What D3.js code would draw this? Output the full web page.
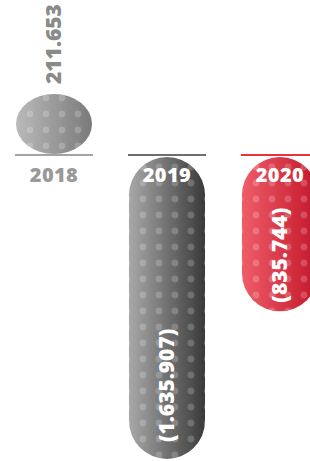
<!DOCTYPE html>
<meta charset="utf-8">
<style>
body { margin: 0; background: #fff; }
text { font-family: "Open Sans", sans-serif; font-weight: 800; }
</style>
<svg width="310" height="461"></svg>
<script src="https://d3js.org/d3.v7.min.js"></script>
<script>

var years = ["2018", "2019", "2020"];
var values = [211653, -1635907, -835744];
var labels = ["211.653", "(1.635.907)", "(835.744)"];

var svg = d3.select("svg"),
    baseY = 155,
    minH = 60;

var x = d3.scaleBand()
    .domain(years)
    .range([16, 318])
    .paddingInner(0.327);

var barW = x.bandwidth();

// negatives hang below the baseline
var y = d3.scaleLinear()
    .domain([0, d3.max(values, function(d) { return Math.abs(d); })])
    .range([0, 302]);

var grads = {
  "2018": ["#bababa", "#7a7a7a"],
  "2019": ["#a8a8a8", "#3a3a3a"],
  "2020": ["#ef5d69", "#c2162a"]
};
var lineColor = { "2018": "#a3a3a3", "2019": "#6e6e6e", "2020": "#e8333d" };

var defs = svg.append("defs");
years.forEach(function(yr) {
  var g = defs.append("linearGradient").attr("id", "g" + yr)
      .attr("x1", 0).attr("x2", 1).attr("y1", 0).attr("y2", 0);
  g.append("stop").attr("offset", "0%").attr("stop-color", grads[yr][0]);
  g.append("stop").attr("offset", "100%").attr("stop-color", grads[yr][1]);
});

var data = years.map(function(yr, i) {
  var h = Math.max(y(Math.abs(values[i])), minH);
  var cx = x(yr) + barW / 2;
  var top = values[i] > 0 ? baseY - 1 - h : baseY + 2;
  return { year: yr, value: values[i], label: labels[i], cx: cx, top: top, h: h };
});

var bar = svg.selectAll("g.bar")
  .data(data)
  .enter().append("g")
    .attr("class", "bar");

bar.append("clipPath")
    .attr("id", function(d) { return "c" + d.year; })
  .append("rect")
    .attr("x", function(d) { return d.cx - barW / 2; })
    .attr("y", function(d) { return d.top; })
    .attr("width", barW)
    .attr("height", function(d) { return d.h; })
    .attr("rx", barW / 2)
    .attr("ry", barW / 2);

bar.append("rect")
    .attr("x", function(d) { return d.cx - barW / 2; })
    .attr("y", function(d) { return d.top; })
    .attr("width", barW)
    .attr("height", function(d) { return d.h; })
    .attr("rx", barW / 2)
    .attr("ry", barW / 2)
    .attr("fill", function(d) { return "url(#g" + d.year + ")"; });

// dotted texture
bar.append("g")
    .attr("clip-path", function(d) { return "url(#c" + d.year + ")"; })
  .each(function(d) {
    var pts = [];
    var r0 = d.value > 0 ? 4 : 10;
    for (var ry = d.top + r0; ry < d.top + d.h + 8; ry += 16)
      for (var k = -3; k < 3; k++)
        pts.push([d.cx + 8 + 16 * k, ry]);
    d3.select(this).selectAll("circle")
      .data(pts)
      .enter().append("circle")
        .attr("cx", function(p) { return p[0]; })
        .attr("cy", function(p) { return p[1]; })
        .attr("r", 3.4)
        .attr("fill", "#fff")
        .attr("fill-opacity", 0.2);
  });

// baseline per year
bar.append("line")
    .attr("x1", function(d) { return d.cx - barW / 2 - 1; })
    .attr("x2", function(d) { return d.cx + barW / 2 + 1; })
    .attr("y1", baseY)
    .attr("y2", baseY)
    .attr("stroke", function(d) { return lineColor[d.year]; })
    .attr("stroke-width", 2.2);

// year labels
bar.append("text")
    .attr("x", function(d) { return d.cx; })
    .attr("y", 182)
    .attr("text-anchor", "middle")
    .attr("font-size", 20)
    .attr("letter-spacing", 0.4)
    .attr("fill", function(d) { return d.value > 0 ? "#999" : "#fff"; })
    .text(function(d) { return d.year; });

// value labels, rotated
bar.append("text")
    .attr("transform", function(d) {
      var ty = d.value > 0 ? d.top - 10 : d.top + d.h - d.h * 0.056;
      return "translate(" + d.cx + "," + ty + ") rotate(-90)";
    })
    .attr("dy", "0.34em")
    .attr("text-anchor", "start")
    .attr("font-size", 21)
    .attr("fill", function(d) { return d.value > 0 ? "#8a8a8a" : "#fff"; })
    .text(function(d) { return d.label; });

</script>
